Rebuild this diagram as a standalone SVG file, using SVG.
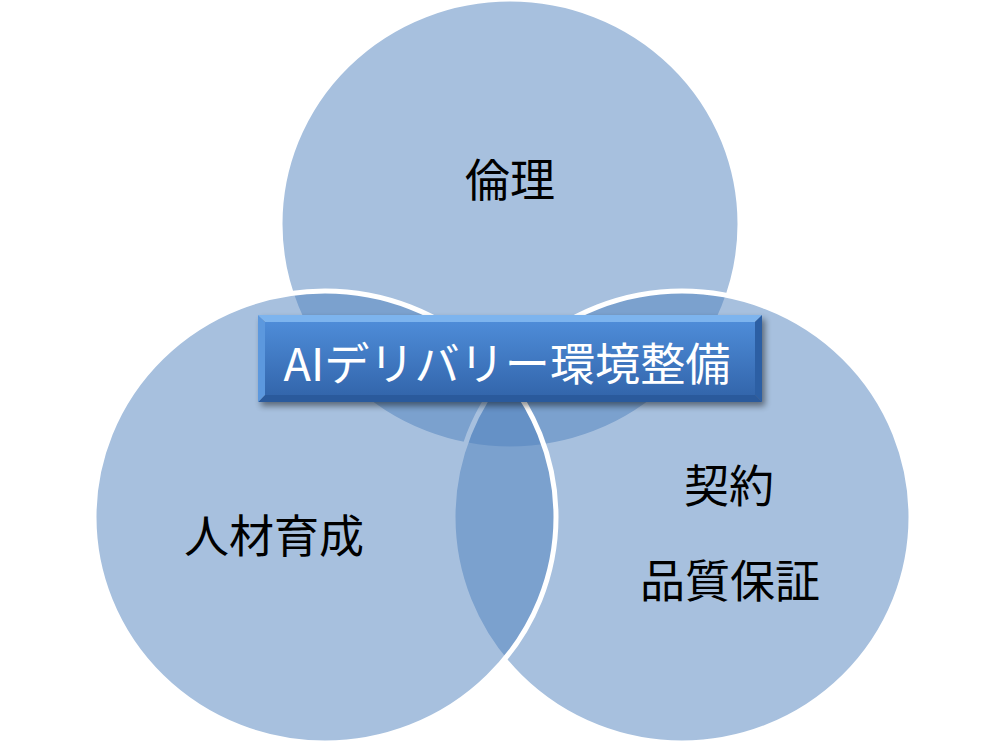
<svg xmlns="http://www.w3.org/2000/svg" width="1000" height="750" viewBox="0 0 1000 750">
<defs>
<style>
.venn{fill:#4F81BD;fill-opacity:0.5;stroke:#FFFFFF;stroke-width:5}
.lbl{font-family:"Noto Sans CJK JP","Noto Sans",sans-serif;font-size:45px;fill:#000000;text-anchor:middle}
.ttl{font-family:"Noto Sans CJK JP","Noto Sans",sans-serif;font-size:45px;fill:#FFFFFF;text-anchor:middle}
</style>
<linearGradient id="face" x1="0" y1="0" x2="0" y2="1">
<stop offset="0" stop-color="#4E8CD8"/>
<stop offset="1" stop-color="#3366AC"/>
</linearGradient>
<filter id="shadow" x="-10%" y="-40%" width="120%" height="180%">
<feGaussianBlur stdDeviation="3"/>
</filter>
</defs>
<rect width="1000" height="750" fill="#FFFFFF"/>
<g id="circle-top">
<ellipse class="venn" cx="510" cy="224" rx="230" ry="225"/>
<text class="lbl" x="510" y="197">倫理</text>
</g>
<g id="circle-right">
<ellipse class="venn" cx="682" cy="517" rx="229" ry="226"/>
<text class="lbl" x="729" y="503">契約</text>
<text class="lbl" x="730" y="598">品質保証</text>
</g>
<g id="circle-left">
<ellipse class="venn" cx="325" cy="517" rx="231" ry="226"/>
<text class="lbl" x="274" y="553">人材育成</text>
</g>
<g id="title">
<rect x="261" y="319" width="504" height="87" fill="#000000" opacity="0.45" filter="url(#shadow)"/>
<polygon points="258,315 762,315 755,322 265,322" fill="#7DB4EE"/>
<polygon points="258,402 762,402 755,395 265,395" fill="#2A5A9C"/>
<polygon points="258,315 265,322 265,395 258,402" fill="#5C98DE"/>
<polygon points="762,315 755,322 755,395 762,402" fill="#2C5FA4"/>
<rect x="265" y="322" width="490" height="73" fill="url(#face)"/>
<text class="ttl" x="507" y="381" textLength="447" lengthAdjust="spacingAndGlyphs">AIデリバリー環境整備</text>
</g>
</svg>
